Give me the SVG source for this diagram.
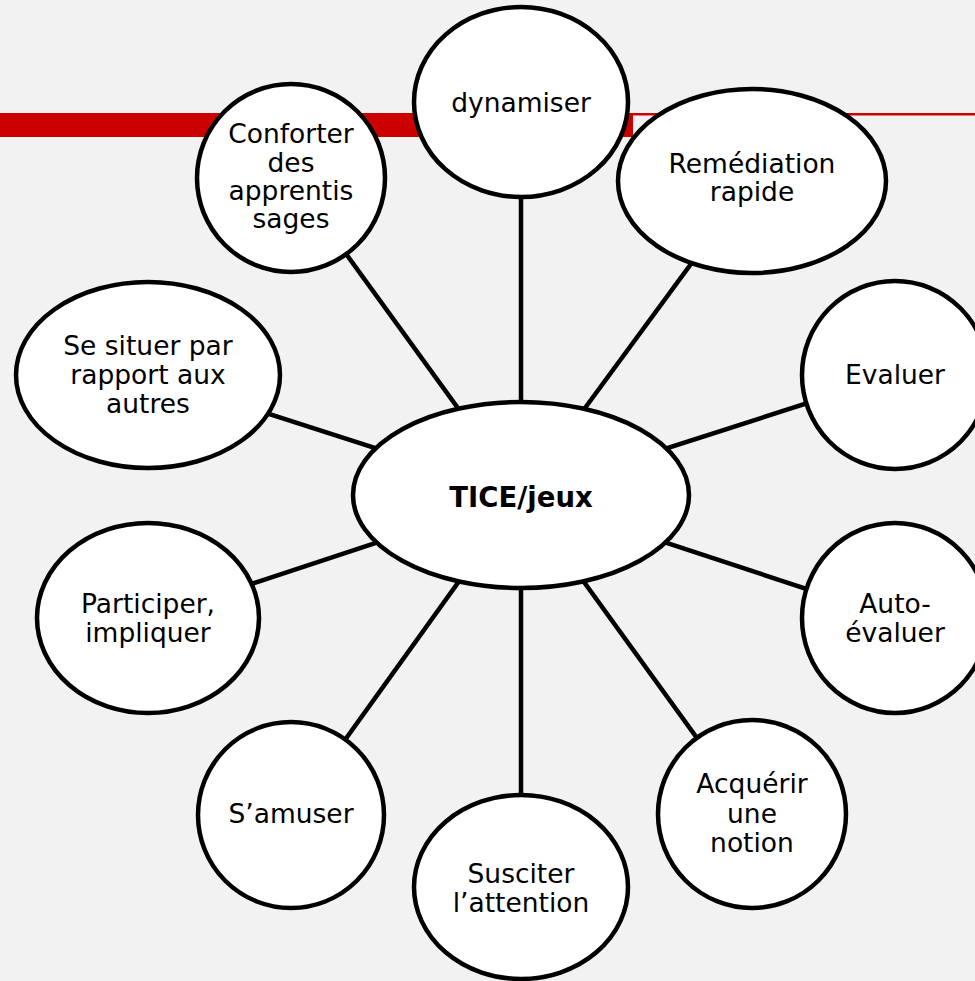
<svg xmlns="http://www.w3.org/2000/svg" width="975" height="981" viewBox="0 0 975 981">
<style>
.node ellipse{fill:#FFFFFF;stroke:#000000;stroke-width:4.5}
.node text{font-family:"DejaVu Sans","Verdana",sans-serif;font-size:26.5px;fill:#000000;text-anchor:middle}
#center text{font-weight:bold;font-size:27.5px}
#connectors line{stroke:#000000;stroke-width:4.5}
</style>
<rect x="0" y="0" width="975" height="981" fill="#F2F2F2"/>
<rect x="0" y="113" width="633" height="24" fill="#CC0000"/>
<rect x="633" y="113" width="342" height="2.5" fill="#CC0000"/>
<g id="connectors">
<line x1="521" y1="495" x2="521" y2="102"/>
<line x1="521" y1="495" x2="291" y2="178"/>
<line x1="521" y1="495" x2="752" y2="181"/>
<line x1="521" y1="495" x2="895" y2="375"/>
<line x1="521" y1="495" x2="895" y2="618"/>
<line x1="521" y1="495" x2="752" y2="814"/>
<line x1="521" y1="495" x2="521" y2="887"/>
<line x1="521" y1="495" x2="291" y2="815"/>
<line x1="521" y1="495" x2="148" y2="618"/>
<line x1="521" y1="495" x2="148" y2="375"/>
</g>
<g id="dynamiser" class="node"><ellipse cx="521" cy="102" rx="107" ry="95"/><text x="521" y="112">dynamiser</text></g>
<g id="conforter" class="node"><ellipse cx="291" cy="178" rx="94" ry="94"/><text x="291" y="143">Conforter</text><text x="291" y="172">des</text><text x="291" y="200">apprentis</text><text x="291" y="228">sages</text></g>
<g id="remediation" class="node"><ellipse cx="752" cy="181" rx="134" ry="92"/><text x="752" y="173">Remédiation</text><text x="752" y="201">rapide</text></g>
<g id="evaluer" class="node"><ellipse cx="895" cy="375" rx="93" ry="94"/><text x="895" y="384">Evaluer</text></g>
<g id="autoevaluer" class="node"><ellipse cx="895" cy="618" rx="93" ry="95"/><text x="895" y="613">Auto-</text><text x="895" y="642">évaluer</text></g>
<g id="acquerir" class="node"><ellipse cx="752" cy="814" rx="94" ry="94"/><text x="752" y="793">Acquérir</text><text x="752" y="823">une</text><text x="752" y="852">notion</text></g>
<g id="susciter" class="node"><ellipse cx="521" cy="887" rx="107" ry="92"/><text x="521" y="883">Susciter</text><text x="521" y="912">l’attention</text></g>
<g id="samuser" class="node"><ellipse cx="291" cy="815" rx="93" ry="93"/><text x="291" y="823">S’amuser</text></g>
<g id="participer" class="node"><ellipse cx="148" cy="618" rx="111" ry="95"/><text x="148" y="613">Participer,</text><text x="148" y="642">impliquer</text></g>
<g id="situer" class="node"><ellipse cx="148" cy="375" rx="132" ry="93"/><text x="148" y="355">Se situer par</text><text x="148" y="384">rapport aux</text><text x="148" y="413">autres</text></g>
<g id="center" class="node"><ellipse cx="521" cy="495" rx="168" ry="93"/><text x="521" y="507">TICE/jeux</text></g>
</svg>
